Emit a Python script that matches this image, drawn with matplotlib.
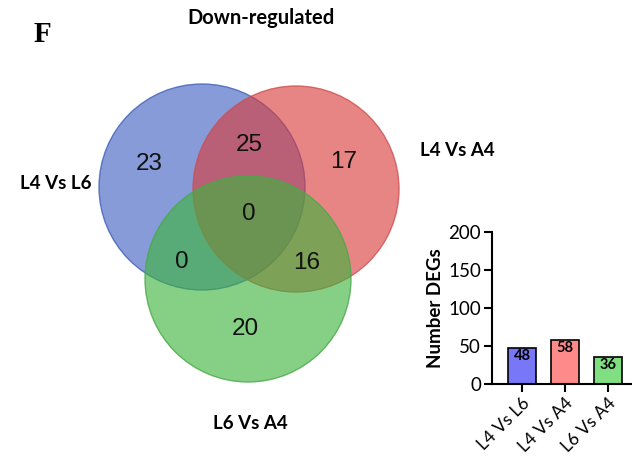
import numpy as np
import matplotlib.pyplot as plt
from matplotlib.patches import Circle

# venn region counts
venn_labels = ['L4 Vs L6', 'L4 Vs A4', 'L6 Vs A4']
only_counts = [23, 17, 20]          # L4vsL6 only, L4vsA4 only, L6vsA4 only
pair_counts = {'ab': 25, 'ac': 0, 'bc': 16}
all_count = 0

# bar chart
bar_names = ['L4 Vs L6', 'L4 Vs A4', 'L6 Vs A4']
bar_values = [48, 58, 36]
bar_colors = ['#7777f7', '#ff8a8a', '#80df80']

fig = plt.figure(figsize=(6.32, 4.61), dpi=100)

# venn drawn in pixel space
ax = fig.add_axes([0, 0, 1, 1])
ax.set_xlim(0, 632)
ax.set_ylim(461, 0)
ax.axis('off')

centers = [(202, 187), (296, 189), (248, 279)]
r = 103
fills = ['#3e5ec0', '#d93b3b', '#3cb43c']
edges = ['#4060b8', '#cc5050', '#4aa84a']
for (cx, cy), fc, ec in zip(centers, fills, edges):
    ax.add_patch(Circle((cx, cy), r, facecolor=fc, alpha=0.62, edgecolor='none'))
    ax.add_patch(Circle((cx, cy), r, facecolor='none', edgecolor=ec, lw=1.0, alpha=0.8))

num_font = dict(fontsize=17.5, family='Liberation Sans', ha='center', va='center', color='#111111')
ax.text(149, 164, str(only_counts[0]), **num_font)
ax.text(344, 162, str(only_counts[1]), **num_font)
ax.text(245, 329, str(only_counts[2]), **num_font)
ax.text(249, 145, str(pair_counts['ab']), **num_font)
ax.text(182, 262, str(pair_counts['ac']), **num_font)
ax.text(307, 263, str(pair_counts['bc']), **num_font)
ax.text(249, 214, str(all_count), **num_font)

lab_font = dict(fontsize=13.5, family='Lato', fontweight='bold', ha='center', va='center')
ax.text(56, 183, venn_labels[0], **lab_font)
ax.text(457, 150, venn_labels[1], **lab_font)
ax.text(250, 423, venn_labels[2], **lab_font)
ax.text(261, 18, 'Down-regulated', fontsize=14.5, family='Lato', fontweight='bold',
        ha='center', va='center')
ax.text(42, 34, 'F', fontsize=21, family='Liberation Serif', fontweight='bold',
        ha='center', va='center')

# bar chart
bx = fig.add_axes([492 / 632, 1 - 384 / 461, 140 / 632, 152 / 461])
x = np.arange(len(bar_values))
bars = bx.bar(x, bar_values, width=0.67, color=bar_colors, edgecolor='black', linewidth=1.2)
for xi, v in zip(x, bar_values):
    bx.text(xi, v - 2, str(v), ha='center', va='top', fontsize=10.5,
            fontweight='bold', family='Lato')
bx.set_xlim(-0.7, 2.56)
bx.set_ylim(0, 200)
bx.set_yticks([0, 50, 100, 150, 200])
bx.set_xticks(x)
bx.set_xticklabels(bar_names, rotation=45, ha='right', rotation_mode='anchor',
                   family='Lato', fontsize=12.5)
for t in bx.get_yticklabels():
    t.set_family('Lato')
    t.set_fontsize(13.5)
bx.set_ylabel('Number DEGs', family='Lato', fontweight='bold', fontsize=13.5, labelpad=3)
bx.spines['top'].set_visible(False)
bx.spines['right'].set_visible(False)
bx.spines['left'].set_linewidth(1.5)
bx.spines['bottom'].set_linewidth(1.5)
bx.tick_params(width=1.5, length=6, pad=2)
bx.patch.set_alpha(0)

fig.savefig('out.png', dpi=100)
